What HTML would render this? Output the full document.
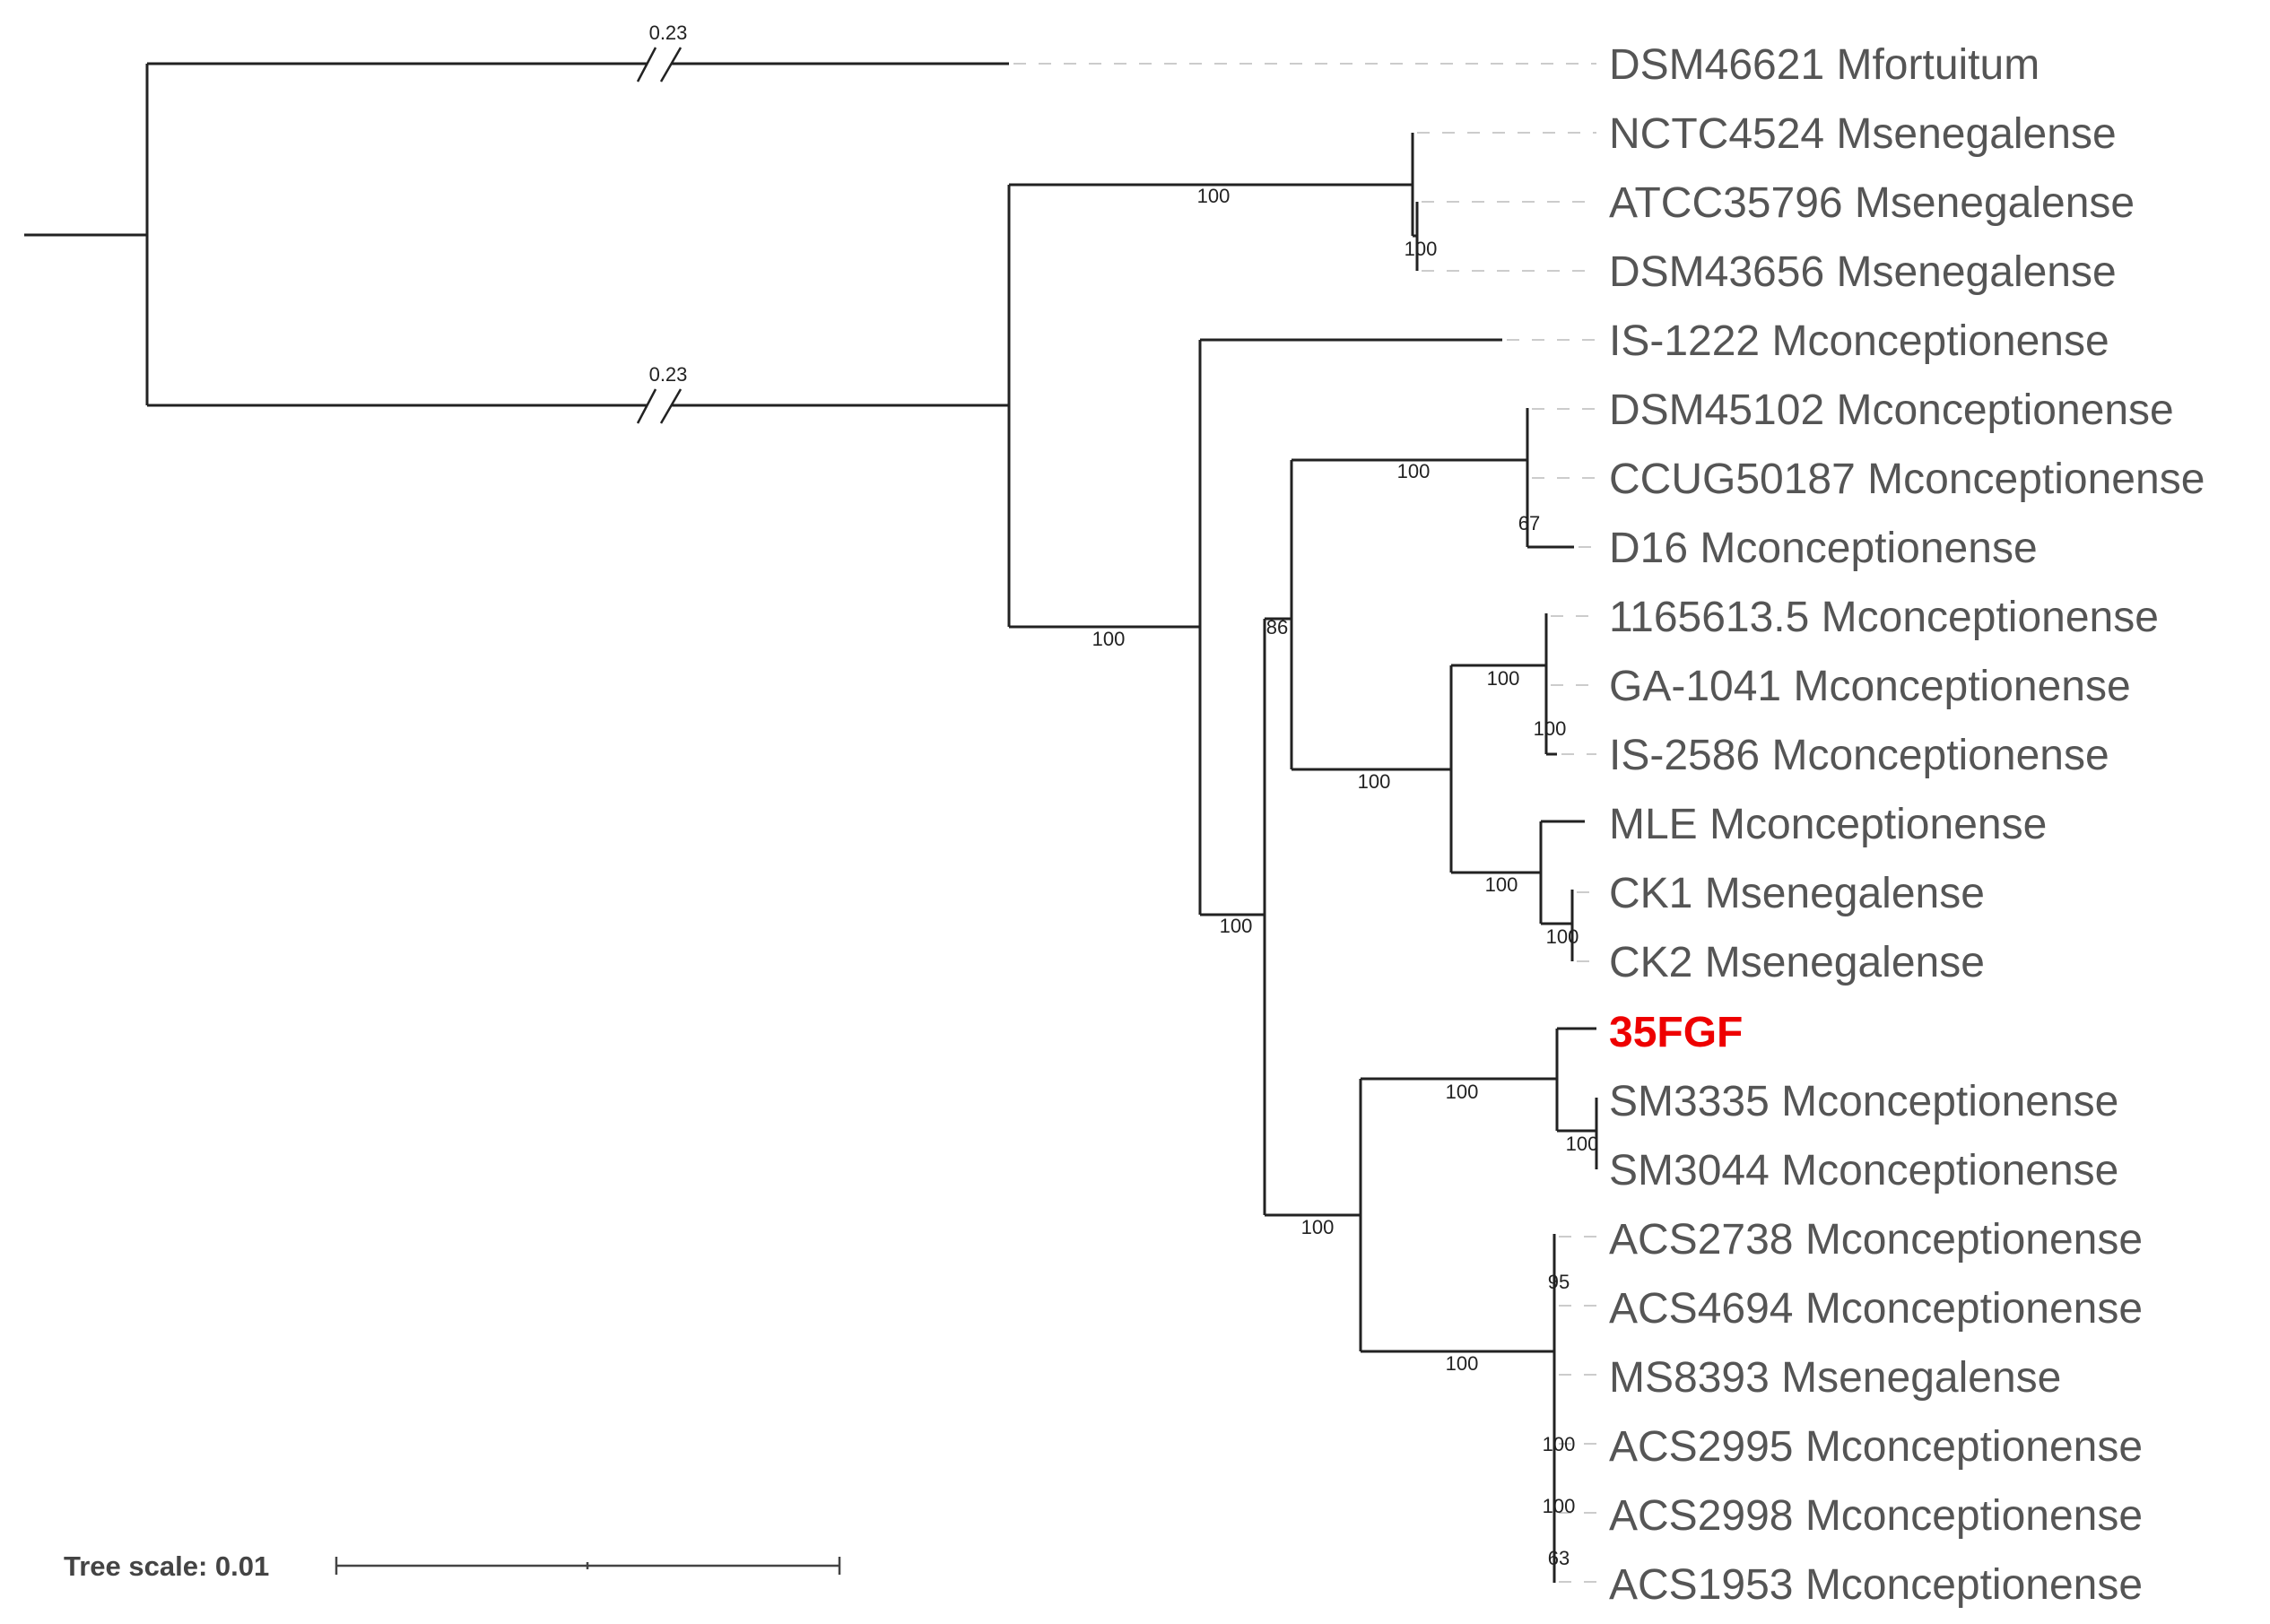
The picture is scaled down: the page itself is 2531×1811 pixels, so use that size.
<!DOCTYPE html>
<html><head><meta charset="utf-8"><style>
html,body{margin:0;padding:0;background:#fff}
svg{display:block}
.l{font-family:"Liberation Sans",Arial,sans-serif;font-size:48px;fill:#555}
.s{font-family:"Liberation Sans",Arial,sans-serif;font-size:22px;fill:#222}
</style></head><body>
<svg width="2531" height="1811" viewBox="0 0 2531 1811" xmlns="http://www.w3.org/2000/svg">
<g stroke="#ccc" stroke-width="2" stroke-dasharray="14 14">
<line x1="1130" y1="71" x2="1780" y2="71"/>
<line x1="1580" y1="148" x2="1780" y2="148"/>
<line x1="1585" y1="225" x2="1780" y2="225"/>
<line x1="1585" y1="302" x2="1780" y2="302"/>
<line x1="1680" y1="379" x2="1780" y2="379"/>
<line x1="1708" y1="456" x2="1780" y2="456"/>
<line x1="1708" y1="533" x2="1780" y2="533"/>
<line x1="1760" y1="610" x2="1780" y2="610"/>
<line x1="1729" y1="687" x2="1780" y2="687"/>
<line x1="1729" y1="764" x2="1780" y2="764"/>
<line x1="1741" y1="841" x2="1780" y2="841"/>
<line x1="1758" y1="995" x2="1780" y2="995"/>
<line x1="1758" y1="1072" x2="1780" y2="1072"/>
<line x1="1738" y1="1379" x2="1780" y2="1379"/>
<line x1="1738" y1="1456" x2="1780" y2="1456"/>
<line x1="1738" y1="1533" x2="1780" y2="1533"/>
<line x1="1738" y1="1610" x2="1780" y2="1610"/>
<line x1="1738" y1="1687" x2="1780" y2="1687"/>
<line x1="1738" y1="1764" x2="1780" y2="1764"/>
</g>
<g stroke="#222" stroke-width="3" fill="none">
<path d="M27 262H164M164 71V452M164 71H1125M164 452H1125"/>
<path d="M1125 206V699M1125 206H1575M1575 148V263M1575 263H1580M1580 225V302"/>
<path d="M1125 699H1338M1338 379V1020M1338 379H1675M1338 1020H1410"/>
<path d="M1410 690V1355M1410 690H1440M1440 513V858M1440 513H1703M1703 455V610M1703 610H1755"/>
<path d="M1440 858H1618M1618 742V973M1618 742H1724M1724 684V841M1724 841H1736"/>
<path d="M1618 973H1718M1718 916V1030M1718 916H1767M1718 1030H1753M1753 992V1072"/>
<path d="M1410 1355H1517M1517 1203V1507M1517 1203H1736M1736 1147V1261M1736 1147H1780M1736 1261H1780M1780 1224V1304"/>
<path d="M1517 1507H1733M1733 1376V1765"/>
</g>
<g fill="#fff" stroke="none">
<rect x="722" y="60" width="26" height="22"/>
<rect x="722" y="441" width="26" height="22"/>
</g>
<g stroke="#222" stroke-width="2.5">
<line x1="711" y1="91" x2="731" y2="53"/><line x1="737" y1="91" x2="759" y2="53"/>
<line x1="711" y1="472" x2="731" y2="434"/><line x1="737" y1="472" x2="759" y2="434"/>
</g>
<g class="s" text-anchor="middle">
<text x="745" y="44">0.23</text>
<text x="745" y="425">0.23</text>
<text x="1353" y="226">100</text>
<text x="1584" y="285">100</text>
<text x="1236" y="720">100</text>
<text x="1424" y="707">86</text>
<text x="1576" y="533">100</text>
<text x="1705" y="591">67</text>
<text x="1532" y="879">100</text>
<text x="1676" y="764">100</text>
<text x="1728" y="820">100</text>
<text x="1378" y="1040">100</text>
<text x="1674" y="994">100</text>
<text x="1742" y="1052">100</text>
<text x="1630" y="1225">100</text>
<text x="1764" y="1283">100</text>
<text x="1469" y="1376">100</text>
<text x="1630" y="1528">100</text>
<text x="1738" y="1437">95</text>
<text x="1738" y="1618">100</text>
<text x="1738" y="1687">100</text>
<text x="1738" y="1745">63</text>
</g>
<g class="l">
<text x="1794" y="88">DSM46621 Mfortuitum</text>
<text x="1794" y="165">NCTC4524 Msenegalense</text>
<text x="1794" y="242">ATCC35796 Msenegalense</text>
<text x="1794" y="319">DSM43656 Msenegalense</text>
<text x="1794" y="396">IS-1222 Mconceptionense</text>
<text x="1794" y="473">DSM45102 Mconceptionense</text>
<text x="1794" y="550">CCUG50187 Mconceptionense</text>
<text x="1794" y="627">D16 Mconceptionense</text>
<text x="1794" y="704">1165613.5 Mconceptionense</text>
<text x="1794" y="781">GA-1041 Mconceptionense</text>
<text x="1794" y="858">IS-2586 Mconceptionense</text>
<text x="1794" y="935">MLE Mconceptionense</text>
<text x="1794" y="1012">CK1 Msenegalense</text>
<text x="1794" y="1089">CK2 Msenegalense</text>
<text x="1794" y="1167" style="fill:#e00;font-weight:bold">35FGF</text>
<text x="1794" y="1244">SM3335 Mconceptionense</text>
<text x="1794" y="1321">SM3044 Mconceptionense</text>
<text x="1794" y="1398">ACS2738 Mconceptionense</text>
<text x="1794" y="1475">ACS4694 Mconceptionense</text>
<text x="1794" y="1552">MS8393 Msenegalense</text>
<text x="1794" y="1629">ACS2995 Mconceptionense</text>
<text x="1794" y="1706">ACS2998 Mconceptionense</text>
<text x="1794" y="1783">ACS1953 Mconceptionense</text>
</g>
<text x="71" y="1757" style="font-family:'Liberation Sans',Arial,sans-serif;font-size:31px;font-weight:bold;fill:#444">Tree scale: 0.01</text>
<g stroke="#444" stroke-width="2.5">
<line x1="375" y1="1746" x2="936" y2="1746"/>
<line x1="375" y1="1736" x2="375" y2="1756"/>
<line x1="936" y1="1736" x2="936" y2="1756"/>
<line x1="655" y1="1742" x2="655" y2="1750"/>
</g>
</svg>
</body></html>
